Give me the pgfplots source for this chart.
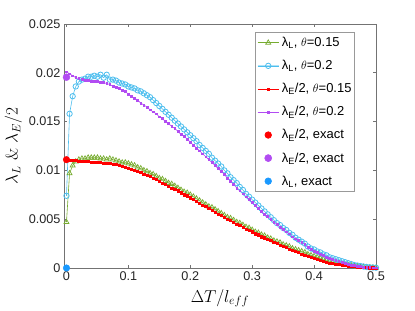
\documentclass[border=0pt]{standalone}
\usepackage{fontspec}
\usepackage{pgfplots}
\usepackage{pgfplotstable}
\pgfplotsset{compat=1.18}
\newfontfamily\hv{Liberation Sans}
\definecolor{mgreen}{rgb}{0.466,0.674,0.188}
\definecolor{mcyan}{rgb}{0.301,0.745,0.933}
\definecolor{mpurple}{rgb}{0.70,0.30,0.95}
\definecolor{mblue}{rgb}{0.10,0.60,1.0}
\definecolor{axgray}{rgb}{0.15,0.15,0.15}

\pgfplotstableread{
x L15 L20 E15 E20
0.000 0.0047 0.0074 0.0111 0.0201
0.005 0.0097 0.0158 0.0110 0.0199
0.010 0.0105 0.0176 0.0110 0.0197
0.015 0.0109 0.0186 0.0110 0.0195
0.020 0.0111 0.0191 0.0109 0.0194
0.025 0.0112 0.0193 0.0109 0.0193
0.030 0.0112 0.0194 0.0109 0.0192
0.035 0.0113 0.0196 0.0109 0.0192
0.040 0.0113 0.0196 0.0108 0.0191
0.045 0.0113 0.0197 0.0108 0.0191
0.050 0.0113 0.0196 0.0108 0.0191
0.055 0.0112 0.0198 0.0108 0.0190
0.060 0.0112 0.0195 0.0107 0.0190
0.065 0.0111 0.0198 0.0107 0.0189
0.070 0.0112 0.0193 0.0107 0.0188
0.075 0.0111 0.0193 0.0106 0.0186
0.080 0.0110 0.0192 0.0106 0.0185
0.085 0.0109 0.0190 0.0105 0.0184
0.090 0.0108 0.0189 0.0104 0.0182
0.095 0.0108 0.0188 0.0103 0.0181
0.100 0.0107 0.0186 0.0102 0.0178
0.105 0.0106 0.0185 0.0101 0.0176
0.110 0.0105 0.0184 0.0100 0.0174
0.115 0.0103 0.0182 0.0099 0.0172
0.120 0.0102 0.0181 0.0098 0.0169
0.125 0.0100 0.0179 0.0096 0.0167
0.130 0.0099 0.0177 0.0095 0.0165
0.135 0.0097 0.0175 0.0094 0.0162
0.140 0.0096 0.0172 0.0092 0.0160
0.145 0.0094 0.0169 0.0091 0.0158
0.150 0.0092 0.0166 0.0089 0.0155
0.155 0.0091 0.0163 0.0087 0.0153
0.160 0.0089 0.0160 0.0086 0.0150
0.165 0.0087 0.0157 0.0084 0.0148
0.170 0.0086 0.0154 0.0082 0.0145
0.175 0.0084 0.0151 0.0081 0.0143
0.180 0.0082 0.0148 0.0079 0.0140
0.185 0.0080 0.0145 0.0077 0.0137
0.190 0.0078 0.0142 0.0075 0.0135
0.195 0.0077 0.0139 0.0074 0.0132
0.200 0.0075 0.0136 0.0072 0.0129
0.205 0.0073 0.0133 0.0070 0.0126
0.210 0.0071 0.0130 0.0068 0.0123
0.215 0.0069 0.0126 0.0066 0.0120
0.220 0.0067 0.0123 0.0064 0.0117
0.225 0.0065 0.0120 0.0063 0.0114
0.230 0.0063 0.0117 0.0061 0.0111
0.235 0.0062 0.0113 0.0059 0.0108
0.240 0.0060 0.0110 0.0057 0.0105
0.245 0.0058 0.0107 0.0055 0.0102
0.250 0.0056 0.0104 0.0054 0.0099
0.255 0.0054 0.0100 0.0052 0.0096
0.260 0.0052 0.0097 0.0050 0.0092
0.265 0.0051 0.0093 0.0049 0.0089
0.270 0.0049 0.0090 0.0047 0.0086
0.275 0.0047 0.0087 0.0045 0.0082
0.280 0.0046 0.0083 0.0044 0.0079
0.285 0.0044 0.0080 0.0042 0.0076
0.290 0.0042 0.0076 0.0040 0.0073
0.295 0.0041 0.0073 0.0039 0.0070
0.300 0.0039 0.0070 0.0037 0.0067
0.305 0.0037 0.0067 0.0035 0.0064
0.310 0.0036 0.0064 0.0034 0.0061
0.315 0.0034 0.0061 0.0032 0.0058
0.320 0.0033 0.0058 0.0031 0.0055
0.325 0.0031 0.0055 0.0029 0.0053
0.330 0.0030 0.0052 0.0028 0.0050
0.335 0.0028 0.0049 0.0026 0.0047
0.340 0.0027 0.0046 0.0025 0.0045
0.345 0.0026 0.0044 0.0023 0.0042
0.350 0.0024 0.0041 0.0022 0.0040
0.355 0.0023 0.0039 0.0021 0.0037
0.360 0.0022 0.0036 0.0019 0.0035
0.365 0.0020 0.0034 0.0018 0.0032
0.370 0.0019 0.0031 0.0017 0.0030
0.375 0.0018 0.0029 0.0016 0.0028
0.380 0.0017 0.0027 0.0014 0.0026
0.385 0.0016 0.0025 0.0013 0.0024
0.390 0.0014 0.0022 0.0012 0.0021
0.395 0.0013 0.0020 0.0011 0.0019
0.400 0.0012 0.0019 0.0010 0.0017
0.405 0.0011 0.0017 0.0009 0.0016
0.410 0.0010 0.0016 0.0008 0.0014
0.415 0.0009 0.0014 0.0007 0.0013
0.420 0.0008 0.0013 0.0006 0.0011
0.425 0.0007 0.0011 0.0005 0.0010
0.430 0.0006 0.0010 0.00045 0.0009
0.435 0.00055 0.0009 0.0004 0.0008
0.440 0.0005 0.0008 0.00035 0.0007
0.445 0.0004 0.0007 0.0003 0.0006
0.450 0.00035 0.0006 0.00025 0.0005
0.455 0.0003 0.0005 0.0002 0.0004
0.460 0.00025 0.0004 0.00017 0.0003
0.465 0.0002 0.0003 0.00014 0.00025
0.470 0.00015 0.00025 0.00011 0.0002
0.475 0.00012 0.0002 0.00008 0.00015
0.480 0.0001 0.00015 0.00006 0.0001
0.485 0.00007 0.0001 0.00004 0.00007
0.490 0.00005 0.00007 0.00003 0.00005
0.495 0.00003 0.00005 0.00002 0.00003
0.500 0.00002 0.00003 0.00001 0.00002
}\data

\begin{document}
\begin{tikzpicture}
\path[use as bounding box] (-64bp,-43bp) rectangle (351bp,268bp);
\begin{axis}[
  scale only axis, width=312bp, height=244bp,
  xmin=-0.004, xmax=0.5, ymin=0, ymax=0.025,
  xtick={0,0.1,0.2,0.3,0.4,0.5},
  xticklabels={0,0.1,0.2,0.3,0.4,0.5},
  ytick={0,0.005,0.01,0.015,0.02,0.025},
  yticklabels={0,0.005,0.01,0.015,0.02,0.025},
  scaled ticks=false,
  tick label style={font=\hv\fontsize{12.7}{14}\selectfont, text=axgray},
  axis line style={draw=black!55, line width=0.6bp},
  tick style={draw=black!55, line width=0.6bp},
  major tick length=3.5bp,
  tick align=inside,
  xlabel={$\Delta T/l_{eff}$},
  ylabel={$\lambda_L$ \& $\lambda_E/2$},
  xlabel style={yshift=-2bp},
  label style={font=\fontsize{17}{20}\selectfont},
  clip=false,
  legend cell align=left,
  legend image code/.code={\draw[mark repeat=2,mark phase=2] plot coordinates {(0bp,0bp) (10.5bp,0bp) (21bp,0bp)};},
  legend style={at={(axis description cs:0.932,0.967)}, anchor=north east,
    font=\hv\fontsize{13}{15}\selectfont, draw=black!40, line width=0.6bp,
    row sep=8.2bp, inner xsep=1bp, inner ysep=3bp},
]
\addplot[color=mgreen, line width=0.6bp, mark=triangle, mark size=2.9bp, mark options={solid, line width=0.7bp}] table[x=x, y=L15] {\data};
\addlegendentry{λ\textsubscript{L}, $\theta$=0.15}
\addplot[color=mcyan, line width=0.6bp, mark=o, mark size=2.7bp, mark options={solid, line width=0.8bp},
  legend image code/.code={\draw[line width=2.4bp, mcyan!45] (0bp,0bp) -- (21bp,0bp); \draw[mark repeat=2,mark phase=2] plot coordinates {(0bp,0bp) (10.5bp,0bp) (21bp,0bp)};}] table[x=x, y=L20] {\data};
\addlegendentry{λ\textsubscript{L}, $\theta$=0.2}
\addplot[color=red, line width=0.6bp, mark=square*, mark size=1.1bp] table[x=x, y=E15] {\data};
\addlegendentry{λ\textsubscript{E}/2, $\theta$=0.15}
\addplot[color=mpurple, line width=0.6bp, mark=square*, mark size=0.9bp] table[x=x, y=E20] {\data};
\addlegendentry{λ\textsubscript{E}/2, $\theta$=0.2}
\addplot[only marks, color=red, mark=*, mark size=3.3bp] coordinates {(0,0.0111)};
\addlegendentry{λ\textsubscript{E}/2, exact}
\addplot[only marks, color=mpurple, mark=*, mark size=3.5bp] coordinates {(0,0.01955)};
\addlegendentry{λ\textsubscript{E}/2, exact}
\addplot[only marks, color=mblue, mark=*, mark size=3.3bp] coordinates {(0,0)};
\addlegendentry{λ\textsubscript{L}, exact}
\end{axis}
\end{tikzpicture}
\end{document}
